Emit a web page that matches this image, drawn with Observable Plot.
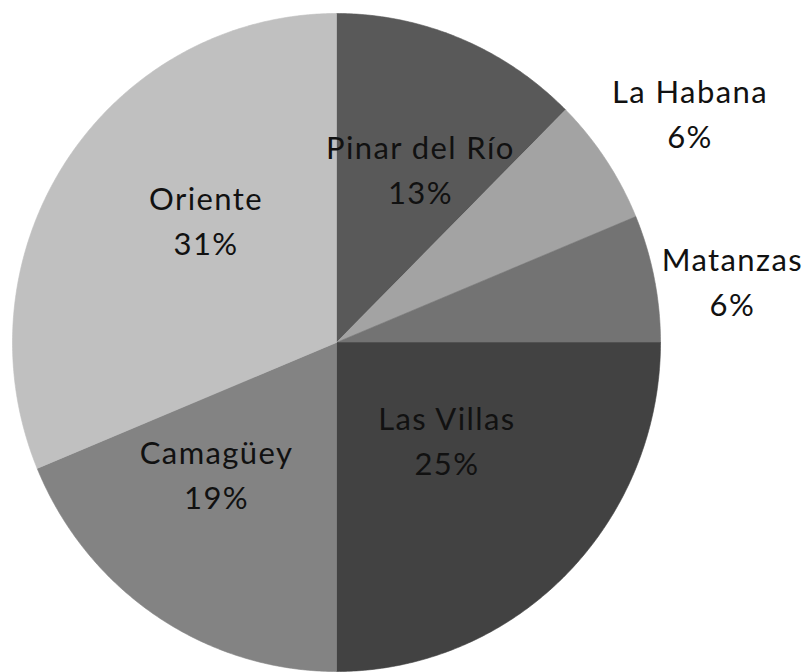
<!DOCTYPE html>
<html>
<head>
<meta charset="utf-8">
<script src="https://cdn.jsdelivr.net/npm/d3@7"></script>
<script src="https://cdn.jsdelivr.net/npm/@observablehq/plot@0.6"></script>
<style>
  html, body { margin: 0; padding: 0; background: #fff; }
</style>
</head>
<body>
<div id="chart"></div>
<script>
// ---- data ----
const regions = ["Pinar del Río", "La Habana", "Matanzas", "Las Villas", "Camagüey", "Oriente"];
const counts = [2, 1, 1, 4, 3, 5];
// ---- styling ----
const colors = ["#595959", "#a3a3a3", "#737373", "#424242", "#838383", "#c0c0c0"];
// label layout: radial factor and pixel nudge (dx, dy)
const labelR = [0.58, 1.29, 1.23, 0.46, 0.55, 0.54];
const labelNudge = [[12, 1], [6, 4], [5, 16], [5, -11], [-21, -21], [15, -26]];

const W = 807, H = 672;
const cx = 336, cy = 342, rx = 324, ry = 329;

const total = d3.sum(counts);
const pie = d3.pie().sort(null).value(d => d)(counts);

// slice polygons (angle measured clockwise from 12 o'clock, unit circle coords)
const slicePts = [];
pie.forEach((a, i) => {
  slicePts.push({x: 0, y: 0, k: regions[i], c: colors[i]});
  const n = Math.max(2, Math.ceil((a.endAngle - a.startAngle) / (Math.PI / 360)));
  for (let j = 0; j <= n; j++) {
    const t = a.startAngle + (a.endAngle - a.startAngle) * j / n;
    slicePts.push({x: Math.sin(t), y: Math.cos(t), k: regions[i], c: colors[i]});
  }
  slicePts.push({x: 0, y: 0, k: regions[i], c: colors[i]});
});

const labels = pie.map((a, i) => {
  const m = (a.startAngle + a.endAngle) / 2;
  const r = labelR[i];
  return {
    x: Math.sin(m) * r + labelNudge[i][0] / rx,
    y: Math.cos(m) * r - labelNudge[i][1] / ry,
    text: regions[i] + "\n" + Math.round(counts[i] / total * 100) + "%"
  };
});

const chart = Plot.plot({
  width: W,
  height: H,
  margin: 0,
  style: {background: "#fff", letterSpacing: "1.4px"},
  x: {domain: [-cx / rx, (W - cx) / rx], range: [0, W], axis: null},
  y: {domain: [-(H - cy) / ry, cy / ry], range: [H, 0], axis: null},
  marks: [
    Plot.line(slicePts, {x: "x", y: "y", z: "k", fill: "c", stroke: "c", strokeWidth: 0.6, curve: "linear"}),
    Plot.text(labels, {
      x: "x", y: "y", text: "text",
      fontFamily: "Lato", fontSize: 31, lineHeight: 1.45,
      fill: "#111", textAnchor: "middle", lineAnchor: "middle"
    })
  ]
});
document.getElementById("chart").appendChild(chart);
</script>
</body>
</html>
